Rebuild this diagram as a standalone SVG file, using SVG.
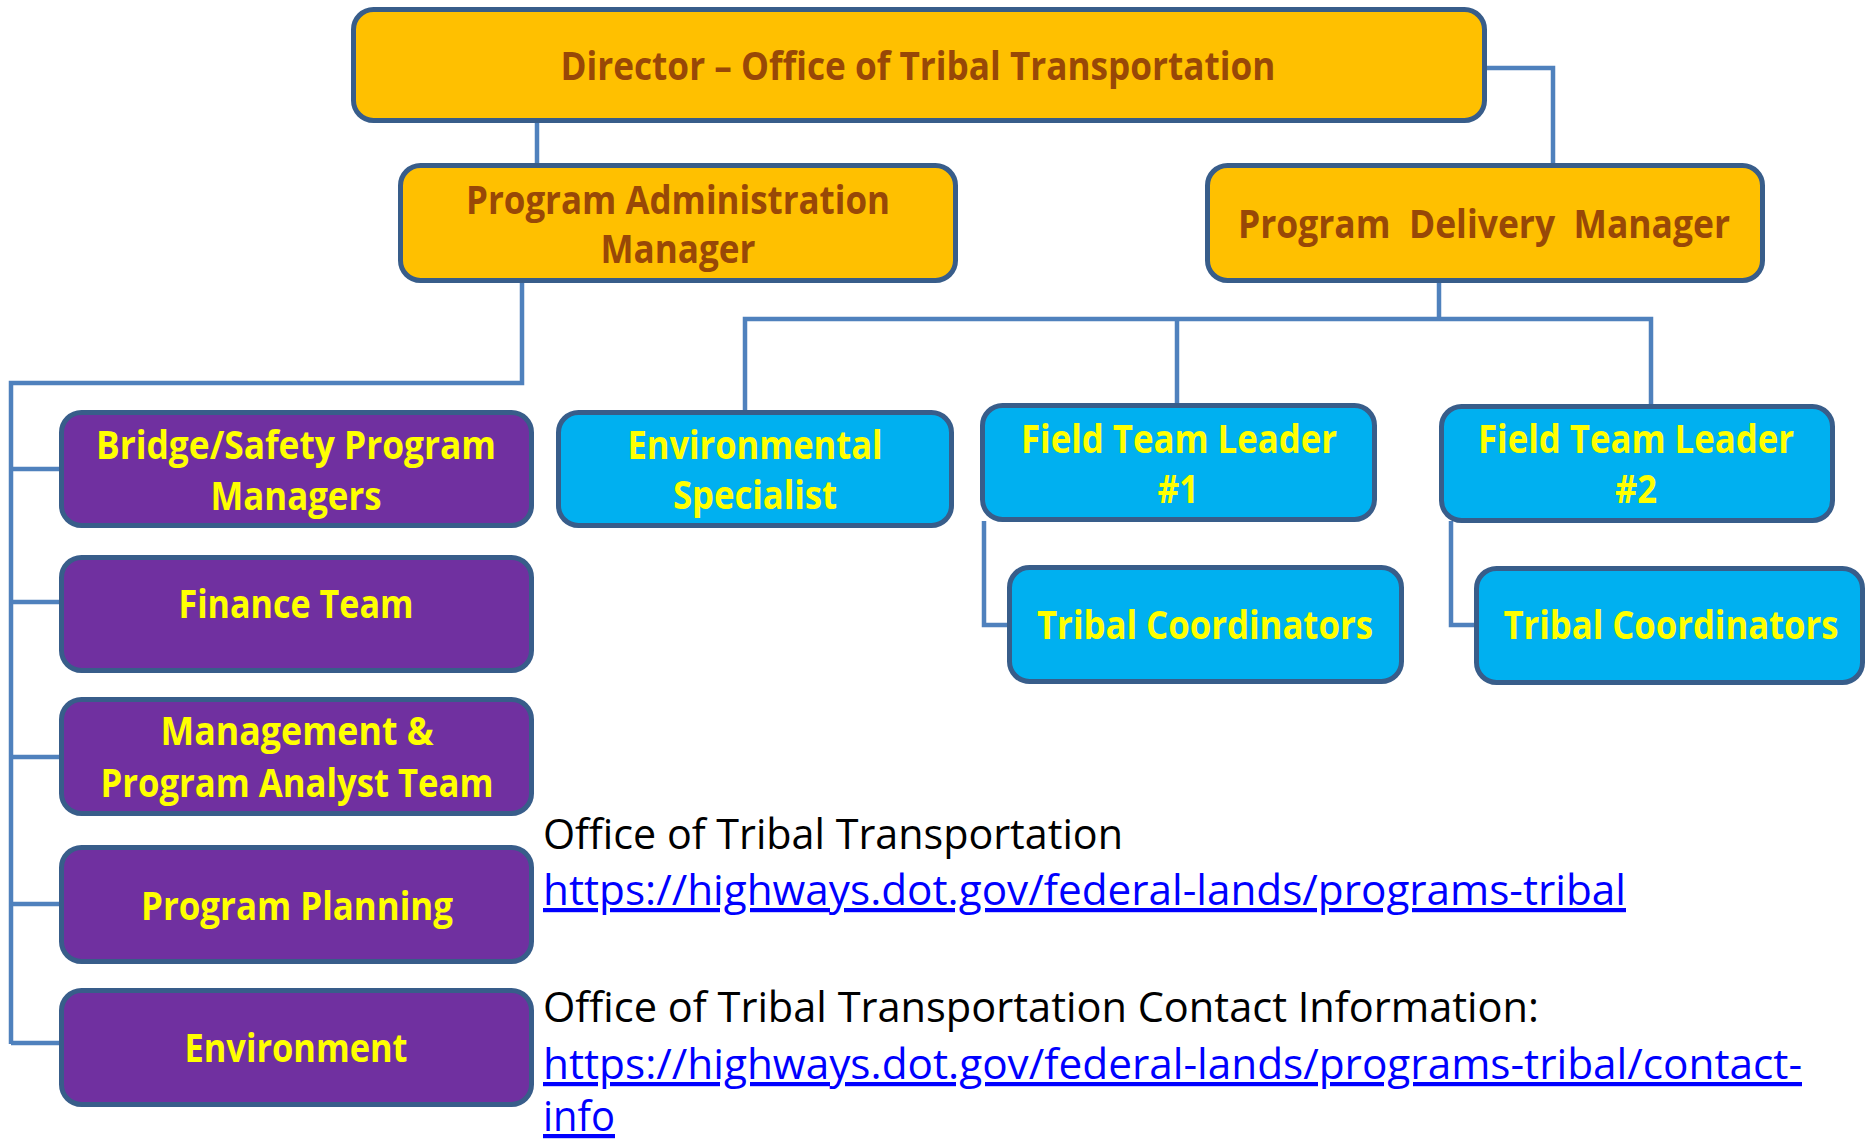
<svg xmlns="http://www.w3.org/2000/svg" width="1866" height="1142" viewBox="0 0 1866 1142">
  <style>
    .box { stroke: #385D8A; stroke-width: 5; }
    .orange { fill: #FFC000; }
    .purple { fill: #7030A0; }
    .blue { fill: #00B0F0; }
    .t { font-family: "Open Sans", "Liberation Sans", sans-serif; font-weight: 700; font-size: 39px; text-anchor: middle; }
    .to { fill: #984807; }
    .ty { fill: #FFFF00; }
    .conn { fill: none; stroke: #4F81BD; stroke-width: 4.5; }
    .info { font-family: "Open Sans", "Liberation Sans", sans-serif; font-size: 42px; fill: #000000; }
    .link { fill: #0000FF; text-decoration: underline; }
  </style>
  <rect width="1866" height="1142" fill="#FFFFFF"/>

  <g id="connectors">
    <path class="conn" d="M537 122 V164"/>
    <path class="conn" d="M1485 68 H1553 V164"/>
    <path class="conn" d="M1439 282 V319"/>
    <path class="conn" d="M745 411 V319 H1651 V406"/>
    <path class="conn" d="M1177 319 V406"/>
    <path class="conn" d="M522 282 V383 H11 V1044"/>
    <path class="conn" d="M11 469 H60"/>
    <path class="conn" d="M11 602 H60"/>
    <path class="conn" d="M11 757 H60"/>
    <path class="conn" d="M11 904 H60"/>
    <path class="conn" d="M11 1043 H60"/>
    <path class="conn" d="M984 521 V625 H1009"/>
    <path class="conn" d="M1451 521 V625 H1476"/>
  </g>

  <g id="director">
    <rect class="box orange" x="353.5" y="9.5" width="1131" height="111" rx="20"/>
    <text class="t to" x="918" y="80" textLength="715" lengthAdjust="spacingAndGlyphs">Director – Office of Tribal Transportation</text>
  </g>

  <g id="program-administration-manager">
    <rect class="box orange" x="400.5" y="165.5" width="555" height="115" rx="20"/>
    <text class="t to" x="678" y="214" textLength="424" lengthAdjust="spacingAndGlyphs">Program Administration</text>
    <text class="t to" x="678" y="263" textLength="155" lengthAdjust="spacingAndGlyphs">Manager</text>
  </g>

  <g id="program-delivery-manager">
    <rect class="box orange" x="1207.5" y="165.5" width="555" height="115" rx="20"/>
    <text class="t to" x="1484" y="238" textLength="492" lengthAdjust="spacingAndGlyphs" xml:space="preserve">Program  Delivery  Manager</text>
  </g>

  <g id="bridge-safety">
    <rect class="box purple" x="61.5" y="412.5" width="470" height="113" rx="20"/>
    <text class="t ty" x="296" y="459" textLength="400" lengthAdjust="spacingAndGlyphs">Bridge/Safety Program</text>
    <text class="t ty" x="296" y="510" textLength="171" lengthAdjust="spacingAndGlyphs">Managers</text>
  </g>

  <g id="finance-team">
    <rect class="box purple" x="61.5" y="557.5" width="470" height="113" rx="20"/>
    <text class="t ty" x="296" y="618" textLength="235" lengthAdjust="spacingAndGlyphs">Finance Team</text>
  </g>

  <g id="management-analyst">
    <rect class="box purple" x="61.5" y="699.5" width="470" height="114" rx="20"/>
    <text class="t ty" x="297" y="745" textLength="273" lengthAdjust="spacingAndGlyphs">Management &amp;</text>
    <text class="t ty" x="297" y="797" textLength="393" lengthAdjust="spacingAndGlyphs">Program Analyst Team</text>
  </g>

  <g id="program-planning">
    <rect class="box purple" x="61.5" y="847.5" width="470" height="114" rx="20"/>
    <text class="t ty" x="297" y="920" textLength="312" lengthAdjust="spacingAndGlyphs">Program Planning</text>
  </g>

  <g id="environment">
    <rect class="box purple" x="61.5" y="990.5" width="470" height="114" rx="20"/>
    <text class="t ty" x="296" y="1062" textLength="223" lengthAdjust="spacingAndGlyphs">Environment</text>
  </g>

  <g id="environmental-specialist">
    <rect class="box blue" x="558.5" y="412.5" width="393" height="113" rx="20"/>
    <text class="t ty" x="755" y="459" textLength="255" lengthAdjust="spacingAndGlyphs">Environmental</text>
    <text class="t ty" x="755" y="509" textLength="164" lengthAdjust="spacingAndGlyphs">Specialist</text>
  </g>

  <g id="field-team-leader-1">
    <rect class="box blue" x="982.5" y="405.5" width="392" height="114" rx="20"/>
    <text class="t ty" x="1179" y="453" textLength="316" lengthAdjust="spacingAndGlyphs">Field Team Leader</text>
    <text class="t ty" x="1178" y="503" textLength="41" lengthAdjust="spacingAndGlyphs">#1</text>
  </g>

  <g id="field-team-leader-2">
    <rect class="box blue" x="1441.5" y="406.5" width="391" height="114" rx="20"/>
    <text class="t ty" x="1636" y="453" textLength="316" lengthAdjust="spacingAndGlyphs">Field Team Leader</text>
    <text class="t ty" x="1636" y="503" textLength="42" lengthAdjust="spacingAndGlyphs">#2</text>
  </g>

  <g id="tribal-coordinators-1">
    <rect class="box blue" x="1009.5" y="567.5" width="392" height="114" rx="20"/>
    <text class="t ty" x="1205" y="639" textLength="336" lengthAdjust="spacingAndGlyphs">Tribal Coordinators</text>
  </g>

  <g id="tribal-coordinators-2">
    <rect class="box blue" x="1476.5" y="568.5" width="386" height="114" rx="20"/>
    <text class="t ty" x="1671" y="639" textLength="335" lengthAdjust="spacingAndGlyphs">Tribal Coordinators</text>
  </g>

  <g id="info-text">
    <text class="info" x="543" y="849" textLength="580" lengthAdjust="spacingAndGlyphs">Office of Tribal Transportation</text>
    <text class="info link" x="543" y="905" textLength="1083" lengthAdjust="spacingAndGlyphs">https://highways.dot.gov/federal-lands/programs-tribal</text>
    <text class="info" x="543" y="1022" textLength="996" lengthAdjust="spacingAndGlyphs">Office of Tribal Transportation Contact Information:</text>
    <text class="info link" x="543" y="1079" textLength="1259" lengthAdjust="spacingAndGlyphs">https://highways.dot.gov/federal-lands/programs-tribal/contact-</text>
    <text class="info link" x="543" y="1131" textLength="72" lengthAdjust="spacingAndGlyphs">info</text>
  </g>
</svg>
